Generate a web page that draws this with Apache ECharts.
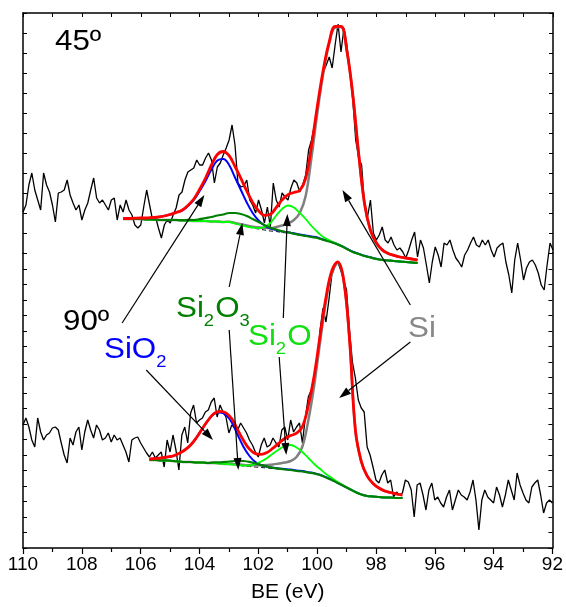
<!DOCTYPE html>
<html>
<head>
<meta charset="utf-8">
<script src="https://cdn.jsdelivr.net/npm/echarts@6/dist/echarts.min.js"></script>
<style>
  html, body { margin: 0; padding: 0; background: #fff; }
  #chart { width: 566px; height: 607px; }
</style>
</head>
<body>
<div id="chart"></div>
<script>
// raw spectra, 110 -> 92 eV, 0.1 eV step (arbitrary intensity units)
const rawStart = 110, rawStep = 0.1
const raw45 = [101,108,128,140,123,113,103,140,128,121,
  108,91,120,121,123,133,118,110,103,108,
  93,103,110,123,135,115,110,113,108,103,
  113,115,93,108,101,113,103,98,88,85,
  88,106,123,108,93,96,85,75,88,93,
  90,98,105,118,121,133,141,143,145,153,
  148,148,155,160,153,130,146,150,158,165,
  173,188,168,130,126,127,133,113,108,100,
  113,103,90,106,86,130,113,106,120,116,
  113,125,133,130,121,128,138,163,173,188,
  205,223,241,248,256,245,268,289,261,285,
  268,243,213,173,155,148,108,96,113,80,
  73,78,86,73,70,76,68,63,65,61,
  55,63,73,81,56,73,65,48,30,51,
  66,58,46,70,68,73,63,55,51,46,
  58,63,70,76,68,66,73,68,73,63,
  56,65,68,70,51,38,20,53,70,53,
  33,45,51,53,48,40,28,23,48,70,63]
const raw90 = [123,130,121,108,101,130,116,108,113,115,
  120,121,118,105,93,85,110,103,116,121,
  98,116,128,118,110,123,118,108,110,115,
  106,113,108,110,103,96,86,108,110,111,
  105,100,95,91,96,90,93,96,81,108,
  96,113,98,78,113,121,105,135,143,125,
  128,130,136,138,146,150,131,143,136,131,
  115,123,120,118,125,120,115,108,103,96,
  91,103,110,101,103,110,105,101,118,121,
  108,128,116,121,125,105,131,151,158,170,
  185,218,240,226,248,273,281,286,278,268,
  258,218,186,170,148,140,136,101,93,81,
  68,65,73,78,65,68,51,56,53,55,
  68,66,58,31,63,65,53,38,58,65,
  48,51,45,41,51,58,38,48,58,53,
  51,48,56,68,48,18,48,58,51,48,
  45,61,53,41,53,68,58,48,75,63,
  55,48,45,61,65,68,53,35,45,48,
  45]

// fit, 45º: 106.6 -> 96.6 eV, 0.2 eV step; components are heights above background
const fitStep = 0.2
const fit45Start = 106.6
const bg45 = [94,94,94,94,93.5,93.5,93,93,93,93,92.5,92.5,92,92,92,91.5,91.5,91,91,89.5,
  88,86.5,85,84,83,82,81.5,80.5,80,79,78,77,76,75,73,71.5,69.5,67,64,61,
  59,57,55.5,54,53,52.5,52,51.5,51,50.5,50]
const sio2_45 = [0.5,0.5,0.8,1,1.5,2,3,4,5.5,7.5,10,14.5,21,30,40,52,61,63,57,46,
  35,24,15,8.5,4.5,2.5,1.5,1,0.8,0.7,0.6,0.6,0.5,0.5,0.5,0.4,0.4,0.4,0.3,0.3,
  0.3,0.2,0.2,0.2,0.1,0.1,0.1,0,0,0,0]
const si2o3_45 = [0,0,0,0,0,0,0,0,0,0,0.3,0.6,1,1.8,3,4.5,6,7.5,9,10.5,
  11,10.5,9,7,5,3.2,2,1.1,0.6,0.3,0,0,0,0,0,0,0,0,0,0,
  0,0,0,0,0,0,0,0,0,0,0]
const si2o_45 = [0,0,0,0,0,0,0,0,0,0,0,0,0,0,0,0,0,0,0,0,
  0,0,0.3,1,3,8,16,23.5,27.5,26.5,22,17,11,6,3,1.3,0.6,0.2,0,0,
  0,0,0,0,0,0,0,0,0,0,0]
const si_45 = [0,0,0,0,0,0,0,0,0,0,0,0,0,0,0,0,0,0,0.3,0.5,
  0.7,1,1.3,1.7,2.2,3,4.5,7,9.5,14,22,40,80,126,167,198,216,219,198,157,
  100,52,27,16,10,7,5.5,4.5,4,3.5,3]

// fit, 90º: 105.7 -> 97.1 eV
const fit90Start = 105.7
const bg90 = [88,88,87.5,87.5,87,86.5,86,86,85.5,85.5,85,85,84.5,84,83.5,83,82,81.5,81,80.5,
  80,79.5,79,78.5,78,77,76.5,75.5,74.5,73,70.5,68,65,62,59,56,53.5,52,51.5,51,
  50.5,50.5,50,50]
const sio2_90 = [1,1.5,2.5,3.5,5,8,12,17,25,34,43,49,51,49,42,30,19,10.5,5,2.5,
  1.2,0.7,0.5,0.5,0.4,0.4,0.4,0.3,0.3,0.3,0.3,0.2,0.2,0.2,0.2,0.1,0.1,0.1,0.1,0,
  0,0,0,0]
const si2o3_90 = [0,0,0,0,0,0,0,0,0,0,0,0.6,1.2,2.1,3.2,4.3,5,4.6,3.6,2.4,
  1.4,0.7,0.3,0,0,0,0,0,0,0,0,0,0,0,0,0,0,0,0,0,
  0,0,0,0]
const si2o_90 = [0,0,0,0,0,0,0,0,0,0,0,0,0,0,0,0.1,0.4,1,3,6,
  10,15,19.5,23.5,25,23.5,19.5,14.5,9.5,6,3.5,2,1,0.5,0.2,0,0,0,0,0,
  0,0,0,0]
const si_90 = [0,0,0,0,0,0,0,0,0,0,0,0,0,0,0.5,0.8,1,1.3,1.8,2.3,
  3,4,5.5,7,9,14,25,52,88,133,176,207,220,206,150,62,33,20,13,9,
  6.5,5,4,3]

const xTicks = [110, 108, 106, 104, 102, 100, 98, 96, 94, 92]

// arrows: [tail, tip], each [BE, intensity, panel] (panel 0 = 45º, 1 = 90º)
const arrows = [
  [[106.63, 225, 1], [103.84, 118, 0]],
  [[105.81, 178, 1], [103.54, 108, 1]],
  [[102.99, 261, 1], [102.55, 90, 0]],
  [[102.99, 218, 1], [102.68, 78, 1]],
  [[101.15, 230, 1], [101.02, 99, 0]],
  [[101.29, 191, 1], [101.05, 93, 1]],
  [[96.83, 243, 1], [99.15, 123, 0]],
  [[96.83, 206, 1], [99.25, 150, 1]],
]

const font = '"Liberation Sans", Arial, sans-serif'
const energies = (start, step, n) => Array.from({ length: n }, (_, i) => +(start - i * step).toFixed(2))
const pairs = (xs, ys) => xs.map((x, i) => [x, ys[i]])
const onBg = (bg, c) => bg.map((b, i) => b + c[i])
const envelope = (bg, comps) => bg.map((b, i) => comps.reduce((s, c) => s + c[i], b))

const rawE = energies(rawStart, rawStep, raw45.length)
const e45 = energies(fit45Start, fitStep, bg45.length)
const e90 = energies(fit90Start, fitStep, bg90.length)

function line(panel, data, color, width, extra) {
  return Object.assign({
    type: 'line', xAxisIndex: panel, yAxisIndex: panel * 2, data,
    symbol: 'none', smooth: 0.4, clip: false, silent: true,
    lineStyle: { color, width }
  }, extra)
}

function panelSeries(panel, e, raw, bg, sio2, si2o3, si2o, si) {
  return [
    line(panel, pairs(rawE, raw), '#000', 1.3, { smooth: false }),
    line(panel, pairs(e, bg), '#000', 1, { lineStyle: { color: '#000', width: 1, type: [4, 3] } }),
    line(panel, pairs(e, onBg(bg, si)), '#808080', 2.5),
    line(panel, pairs(e, onBg(bg, sio2)), '#0000ff', 2),
    line(panel, pairs(e, onBg(bg, si2o)), '#00ff00', 1.8),
    line(panel, pairs(e, onBg(bg, si2o3)), '#008000', 2.2),
    line(panel, pairs(e, envelope(bg, [sio2, si2o3, si2o, si])), '#ff0000', 2.8),
  ]
}

const frame = { show: true, lineStyle: { color: '#000', width: 1.5 } }
const yAx = (grid, pos, min, max, interval) => ({
  type: 'value', gridIndex: grid, position: pos, min, max, interval,
  axisLine: frame, axisTick: { show: true, inside: true, length: 4, lineStyle: { color: '#000' } },
  axisLabel: { show: false }, splitLine: { show: false }
})

const chart = echarts.init(document.getElementById('chart'))
chart.setOption({
  animation: false,
  backgroundColor: '#fff',
  grid: [
    { left: 23, right: 13, top: 13, height: 240 },
    { left: 23, right: 13, top: 253, bottom: 59 }
  ],
  xAxis: [
    {
      type: 'value', gridIndex: 0, position: 'top', min: 92, max: 110, inverse: true, interval: 1,
      axisLine: frame, axisTick: { inside: true, length: 4, lineStyle: { color: '#000' } },
      axisLabel: { show: false }, splitLine: { show: false }
    },
    {
      type: 'value', gridIndex: 1, position: 'bottom', min: 92, max: 110, inverse: true, interval: 2,
      axisLine: frame,
      axisTick: { inside: false, length: 6, lineStyle: { color: '#000', width: 1.2 } },
      minorTick: { show: true, splitNumber: 2, length: 4, lineStyle: { color: '#000', width: 1.2 } },
      axisLabel: {
        color: '#000', fontSize: 19, fontFamily: font, margin: 7,
        showMinLabel: true, showMaxLabel: true,
        formatter: v => xTicks.includes(v) ? String(v) : ''
      },
      splitLine: { show: false },
      name: 'BE (eV)', nameLocation: 'middle', nameGap: 34,
      nameTextStyle: { color: '#000', fontSize: 21, fontFamily: font }
    }
  ],
  yAxis: [
    yAx(0, 'left', 60, 300, 20),
    yAx(0, 'right', 60, 300, 20),
    yAx(1, 'left', 0, 295, 15.5),
    yAx(1, 'right', 0, 295, 15.5)
  ],
  series: [
    ...panelSeries(0, e45, raw45, bg45, sio2_45, si2o3_45, si2o_45, si_45),
    ...panelSeries(1, e90, raw90, bg90, sio2_90, si2o3_90, si2o_90, si_90)
  ]
})

// annotations
const labels = [
  { x: 55, y: 42, color: '#000', parts: [['45º']] },
  { x: 63, y: 322, color: '#000', parts: [['90º']] },
  { x: 104, y: 350, color: '#0000ff', parts: [['SiO'], ['2', 1]] },
  { x: 176, y: 309, color: '#008000', parts: [['Si'], ['2', 1], ['O'], ['3', 1]] },
  { x: 248, y: 337, color: '#10e010', parts: [['Si'], ['2', 1], ['O']] },
  { x: 408, y: 329, color: '#888888', parts: [['Si']] }
]

const ctx = document.createElement('canvas').getContext('2d')
function textWidth(s, size) {
  ctx.font = size + 'px ' + font
  return ctx.measureText(s).width
}

function labelGroup(lab) {
  let x = 0
  const children = lab.parts.map(([s, sub]) => {
    const size = sub ? 17 : 29
    const el = {
      type: 'text', x, y: sub ? 12 : 0,
      style: { text: s, fill: lab.color, font: size + 'px ' + font, align: 'left', verticalAlign: 'middle', textAlign: 'left', textVerticalAlign: 'middle' }
    }
    x += textWidth(s, size) + (sub ? 1 : 0)
    return el
  })
  return { type: 'group', x: lab.x, y: lab.y, scaleX: 1.08, z: 100, silent: true, children }
}

const toPx = p => chart.convertToPixel({ xAxisIndex: p[2], yAxisIndex: p[2] * 2 }, [p[0], p[1]])

function arrowEls(a) {
  const p0 = toPx(a[0]), p1 = toPx(a[1])
  const dx = p1[0] - p0[0], dy = p1[1] - p0[1]
  const len = Math.hypot(dx, dy), ux = dx / len, uy = dy / len
  const L = 12, W = 4
  const bx = p1[0] - ux * L, by = p1[1] - uy * L
  return [
    { type: 'line', z: 100, silent: true, shape: { x1: p0[0], y1: p0[1], x2: bx, y2: by }, style: { stroke: '#000', lineWidth: 1.2 } },
    { type: 'polygon', z: 100, silent: true, shape: { points: [p1, [bx - uy * W, by + ux * W], [bx + uy * W, by - ux * W]] }, style: { fill: '#000' } }
  ]
}

chart.setOption({
  graphic: [...arrows.flatMap(arrowEls), ...labels.map(labelGroup)]
})
</script>
</body>
</html>
